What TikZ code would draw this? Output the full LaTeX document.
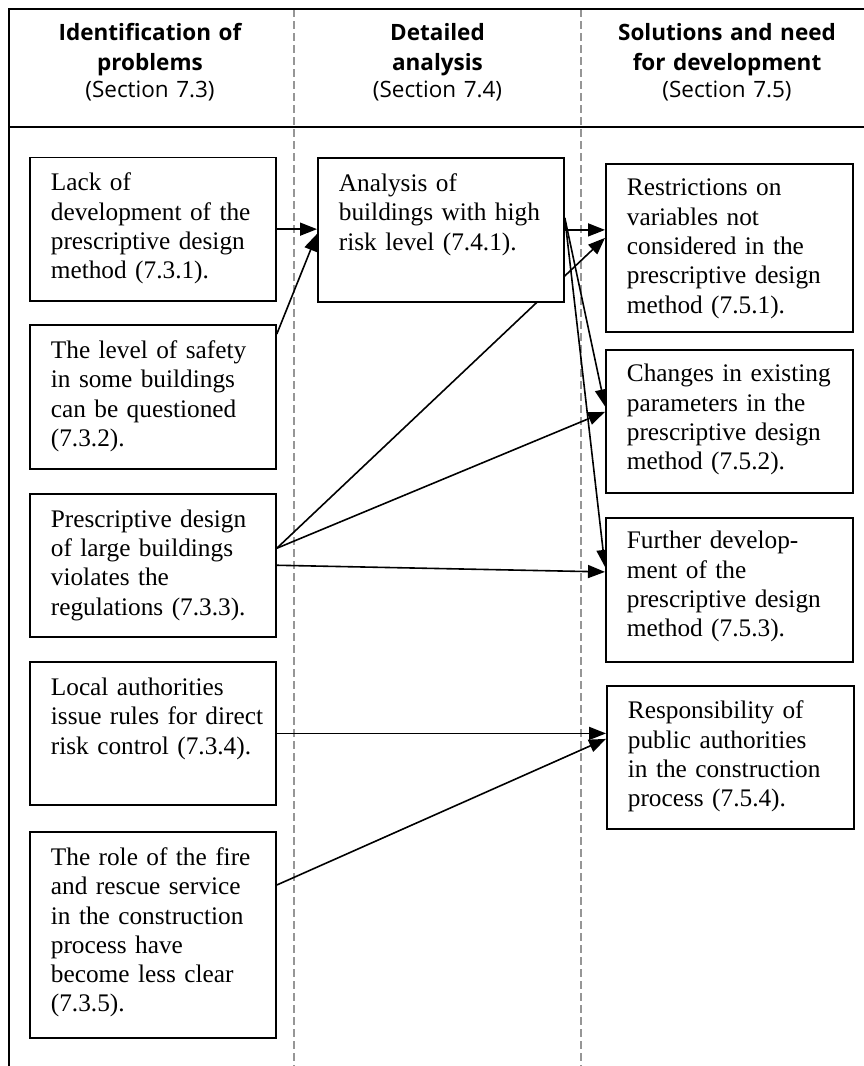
\documentclass[tikz,border=0pt]{standalone}
\usepackage{fontspec}
\setmainfont{Liberation Serif}
\newfontfamily\hdfont{Open Sans}
\usetikzlibrary{arrows.meta,calc}
\pgfdeclarelayer{bg}
\pgfsetlayers{bg,main}
\newcommand{\lns}[1]{\begin{tabular}[t]{@{}l@{}}#1\end{tabular}}
\definecolor{dashgray}{RGB}{150,150,150}
\begin{document}
\begin{tikzpicture}[x=1pt,y=-1pt,
  frame/.style={line width=1.6pt},
  sep/.style={draw=dashgray, line width=1.2pt, dash pattern=on 8pt off 4pt},
  hd/.style={font=\hdfont\fontsize{22.5}{30.7}\selectfont, text width=285pt, align=center, anchor=north, inner sep=0pt, text height=16pt},
  tbox/.style={draw, line width=1.8pt, fill=white, anchor=north west, inner xsep=21pt, inner ysep=0pt, text width=204pt, font=\fontsize{25.3}{29.3}\selectfont, text height=33.5pt},
  arr/.style={line width=1.6pt, -{Triangle[length=17pt,width=13pt]}}
]
\useasboundingbox (0,0) rectangle (864,1066);

% frame
\draw[frame] (873,9) -- (9,9) -- (9,1072);
\draw[frame] (9,127) -- (873,127);

% headers
\node[hd] (h1) at (150,24) {\bfseries Identification of\\problems\\[-4pt]\mdseries (Section 7.3)};
\node[hd] (h2) at (437.5,24) {\bfseries Detailed\\analysis\\[-4pt]\mdseries (Section 7.4)};
\node[hd] (h3) at (727,24) {\bfseries Solutions and need\\for development\\[-4pt]\mdseries (Section 7.5)};

% left column
\node[tbox, text depth=110pt] (b1) at (29,156.5) {\lns{Lack of\\development of the\\prescriptive design\\method (7.3.1).}};
\node[tbox, text depth=110.5pt] (b2) at (29,324) {\lns{The level of safety\\in some buildings\\can be questioned\\(7.3.2).}};
\node[tbox, text depth=109.8pt] (b3) at (29,492.7) {\lns{Prescriptive design\\of large buildings\\violates the\\regulations (7.3.3).}};
\node[tbox, text depth=109.5pt] (b4) at (29,661) {\lns{Local authorities\\issue rules for direct\\risk control (7.3.4).}};
\node[tbox, text depth=172.5pt] (b5) at (29,831) {\lns{The role of the fire\\and rescue service\\in the construction\\process have\\become less clear\\(7.3.5).}};

% middle column
\node[tbox, text depth=110.5pt] (an) at (317,157) {\lns{Analysis of\\buildings with high\\risk level (7.4.1).}};

% right column
\node[tbox, text width=205pt, text height=32pt, text depth=136pt] (rs) at (605,163) {\lns{Restrictions on\\variables not\\considered in the\\prescriptive design\\method (7.5.1).}};
\node[tbox, text width=205pt, text height=32pt, text depth=111pt] (ch) at (605,349) {\lns{Changes in existing\\parameters in the\\prescriptive design\\method (7.5.2).}};
\node[tbox, text width=205pt, text height=31pt, text depth=113pt] (fd) at (605,517) {\lns{Further develop-\\ment of the\\prescriptive design\\method (7.5.3).}};
\node[tbox, text width=205pt, text height=33pt, text depth=110pt] (rp) at (606,685) {\lns{Responsibility of\\public authorities\\in the construction\\process (7.5.4).}};

\begin{pgfonlayer}{bg}
\fill[white] (0,0) rectangle (864,1066);
\draw[sep] (294,9) -- (294,1072);
\draw[sep] (581,9) -- (581,1072);

\draw[arr] (b1.east) -- (b1.east -| an.west);
\draw[arr] ($(b2.north east)+(0,10)$) -- ($(an.west)+(0,4)$);
\draw[arr] (an.east) -- (an.east -| rs.west);
\draw[arr] ($(an.east)+(0,-12)$) -- ($(ch.west)+(0,-15)$);
\draw[arr] ($(an.east)+(0,-12)$) -- ($(fd.west)+(0,-23)$);
\draw[arr] ($(b3.east)+(0,-17)$) -- ($(rs.west)+(0,-10)$);
\draw[arr] ($(b3.east)+(0,-17)$) -- ($(ch.west)+(0,-9.5)$);
\draw[arr] (b3.east) -- ($(fd.west)+(0,-18)$);
\draw[arr] (b4.east) -- (b4.east -| rp.west);
\draw[arr] ($(b5.north east)+(0,54)$) -- ($(rp.west)+(0,-18.5)$);
\end{pgfonlayer}
\end{tikzpicture}
\end{document}
